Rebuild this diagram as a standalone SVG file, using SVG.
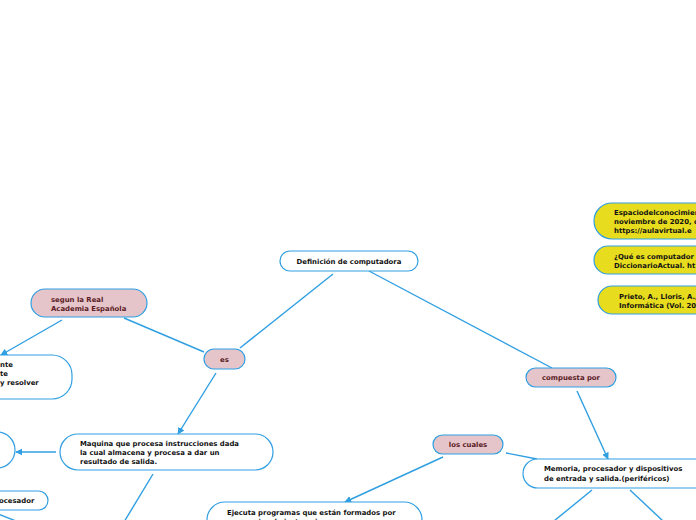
<svg xmlns="http://www.w3.org/2000/svg" width="696" height="520" viewBox="0 0 696 520">
<style>
.n{fill:#fff;stroke:#2f9fe2;stroke-width:1.2}
.p{fill:#e5c5ca;stroke:#2f9fe2;stroke-width:1.2}
.y{fill:#e8dc1f;stroke:#2f9fe2;stroke-width:1.2}
.t{font-family:"DejaVu Sans",Verdana,sans-serif;font-weight:bold;font-size:6.9px;fill:#111}
.tp{font-family:"DejaVu Sans",Verdana,sans-serif;font-weight:bold;font-size:6.9px;fill:#5a1a24}
.c{fill:none;stroke:#2f9fe2;stroke-width:1.4}
</style>
<defs>
<marker id="a" viewBox="0 0 10 10" refX="9" refY="5" markerWidth="7" markerHeight="7" markerUnits="userSpaceOnUse" orient="auto">
<path d="M0,0 L10,5 L0,10 z" fill="#2f9fe2"/>
</marker>
</defs>
<rect width="696" height="520" fill="#fff"/>
<g id="connectors">
<line class="c" x1="333" y1="274" x2="240" y2="348"/>
<line class="c" x1="369" y1="271" x2="552" y2="368"/>
<line class="c" x1="124" y1="318" x2="204" y2="352"/>
<line class="c" x1="62" y1="320" x2="1" y2="355" marker-end="url(#a)"/>
<line class="c" x1="216" y1="373" x2="178" y2="434" marker-end="url(#a)"/>
<line class="c" x1="577" y1="391" x2="608" y2="459" marker-end="url(#a)"/>
<line class="c" x1="56" y1="452" x2="16" y2="452" marker-end="url(#a)"/>
<line class="c" x1="153" y1="474" x2="124" y2="522"/>
<line class="c" x1="443" y1="457" x2="345" y2="502" marker-end="url(#a)"/>
<line class="c" x1="506" y1="453" x2="537" y2="459"/>
<line class="c" x1="592" y1="490" x2="554" y2="521"/>
<line class="c" x1="630" y1="490" x2="663" y2="521"/>
<line class="c" x1="-2" y1="514" x2="16" y2="521"/>
</g>
<g id="n-def">
<rect class="n" x="280" y="251" width="138" height="20" rx="10"/>
<text class="t" x="349" y="263.5" text-anchor="middle">Definición de computadora</text>
</g>
<g id="n-segun">
<rect class="p" x="31" y="289" width="116" height="28" rx="14"/>
<text class="tp" x="51" y="301.5">segun la Real</text>
<text class="tp" x="51" y="310.5">Academia Española</text>
</g>
<g id="n-es">
<rect class="p" x="204" y="349" width="41" height="20" rx="10"/>
<text class="tp" x="224.5" y="361.5" text-anchor="middle">es</text>
</g>
<g id="n-compuesta">
<rect class="p" x="526" y="368" width="90" height="19" rx="9.5"/>
<text class="tp" x="571" y="380" text-anchor="middle">compuesta por</text>
</g>
<g id="n-loscuales">
<rect class="p" x="433" y="435" width="70" height="19" rx="9.5"/>
<text class="tp" x="468" y="447" text-anchor="middle">los cuales</text>
</g>
<g id="n-memoria">
<rect class="n" x="523" y="459" width="200" height="29" rx="14.5"/>
<text class="t" x="544" y="471">Memoria, procesador y dispositivos</text>
<text class="t" x="544" y="481">de entrada y salida.(periféricos)</text>
</g>
<g id="n-maquina">
<rect class="n" x="60" y="434" width="213" height="36" rx="18"/>
<text class="t" x="80" y="446">Maquina que procesa instrucciones dada</text>
<text class="t" x="80" y="455">la cual almacena y procesa a dar un</text>
<text class="t" x="80" y="464">resultado de salida.</text>
</g>
<g id="n-ejecuta">
<rect class="n" x="207" y="502" width="215" height="40" rx="18"/>
<text class="t" x="227" y="515">Ejecuta programas que están formados por</text>
<text class="t" x="227" y="524">secuencias de instrucciones</text>
</g>
<g id="n-left1">
<rect class="n" x="-120" y="355" width="192" height="44" rx="20"/>
<text class="t" x="0" y="367">nte</text>
<text class="t" x="0" y="376">te</text>
<text class="t" x="0" y="385">y resolver</text>
</g>
<g id="n-left2">
<rect class="n" x="-80" y="432" width="95" height="36" rx="18"/>
</g>
<g id="n-left3">
<rect class="n" x="-80" y="491" width="128" height="19" rx="9.5"/>
<text class="t" x="-1" y="503">ocesador</text>
</g>
<g id="n-ref1">
<rect class="y" x="594" y="203" width="160" height="36" rx="18"/>
<text class="t" x="614" y="215">Espaciodelconocimien</text>
<text class="t" x="614" y="224">noviembre de 2020, d</text>
<text class="t" x="614" y="233">https://aulavirtual.e</text>
</g>
<g id="n-ref2">
<rect class="y" x="594" y="246" width="160" height="28" rx="14"/>
<text class="t" x="614" y="258.5">¿Qué es computador</text>
<text class="t" x="614" y="267.5">DiccionarioActual. ht</text>
</g>
<g id="n-ref3">
<rect class="y" x="598" y="286" width="160" height="28" rx="14"/>
<text class="t" x="619" y="298.5">Prieto, A., Lloris, A.,</text>
<text class="t" x="619" y="307.5">Informática (Vol. 20</text>
</g>
</svg>
